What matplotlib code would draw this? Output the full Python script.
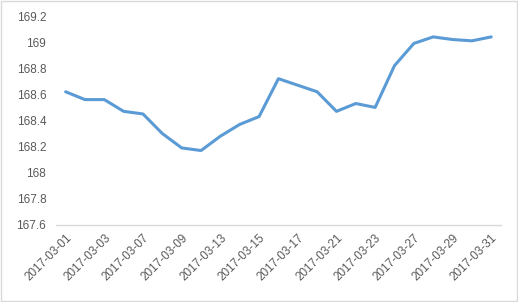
import matplotlib
matplotlib.use('agg')
import matplotlib.pyplot as plt
import matplotlib.patches as patches
from matplotlib.ticker import FuncFormatter

dates = ['2017-03-01', '2017-03-02', '2017-03-03', '2017-03-06', '2017-03-07',
         '2017-03-08', '2017-03-09', '2017-03-10', '2017-03-13', '2017-03-14',
         '2017-03-15', '2017-03-16', '2017-03-17', '2017-03-20', '2017-03-21',
         '2017-03-22', '2017-03-23', '2017-03-24', '2017-03-27', '2017-03-28',
         '2017-03-29', '2017-03-30', '2017-03-31']
values = [168.62, 168.56, 168.56, 168.47, 168.45, 168.30, 168.19, 168.17,
          168.28, 168.37, 168.43, 168.72, 168.67, 168.62, 168.47, 168.53,
          168.50, 168.82, 168.99, 169.04, 169.02, 169.01, 169.04]
y_ticks = [167.6, 167.8, 168.0, 168.2, 168.4, 168.6, 168.8, 169.0, 169.2]

plt.rcParams['font.family'] = ['Liberation Sans', 'DejaVu Sans']

fig = plt.figure(figsize=(5.18, 3.02), dpi=100)
ax = fig.add_axes([0.108, 0.255, 0.859, 0.692])

x = list(range(len(dates)))
ax.plot(x, values, color='#5B9BD5', linewidth=2.2, solid_joinstyle='round', solid_capstyle='round')

ax.set_xlim(-0.5, len(dates) - 0.5)
ax.set_ylim(y_ticks[0], y_ticks[-1])
ax.set_yticks(y_ticks)
ax.yaxis.set_major_formatter(FuncFormatter(lambda v, p: f'{v:.1f}'.rstrip('0').rstrip('.')))

shown = x[::2]
ax.set_xticks(shown)
# va='top' with anchor rotation pushes the labels a bit right and down, like the original
ax.set_xticklabels([dates[i] for i in shown], rotation=45, ha='right', va='top',
                   rotation_mode='anchor')

for s in ['top', 'right', 'left']:
    ax.spines[s].set_visible(False)
ax.spines['bottom'].set_color('#D9D9D9')
ax.spines['bottom'].set_linewidth(1)
ax.tick_params(axis='both', length=0, labelsize=8.5, colors='#595959')
ax.tick_params(axis='y', pad=7)
ax.tick_params(axis='x', pad=5)

fig.patches.append(patches.Rectangle((0.001, 0.002), 0.997, 0.995, transform=fig.transFigure,
                                     fill=False, edgecolor='#D9D9D9', linewidth=1))

plt.savefig('out.png', dpi=100)
plt.close(fig)
